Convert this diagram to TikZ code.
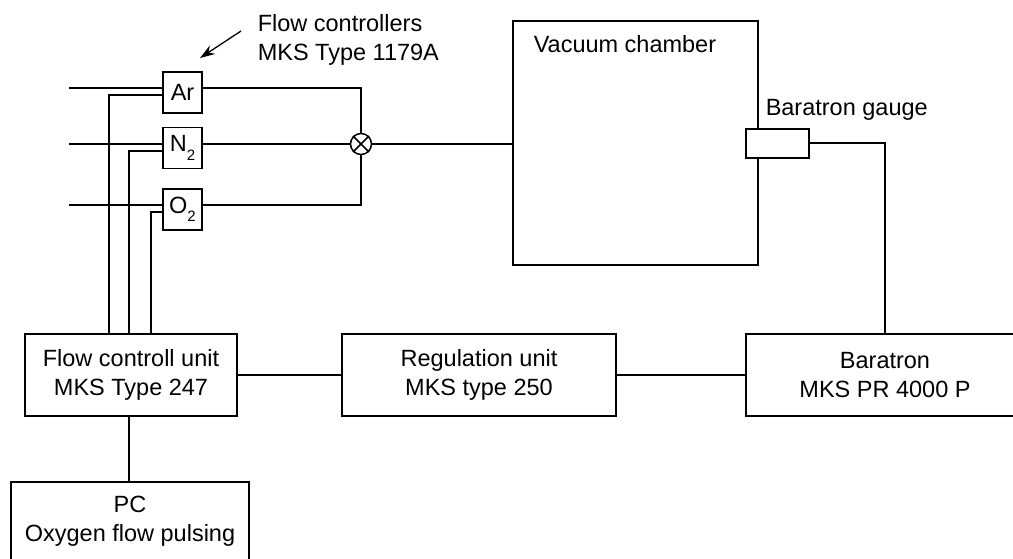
\documentclass[tikz,border=0pt]{standalone}
\usepackage{fontspec}
\setmainfont{Liberation Sans}
\usetikzlibrary{arrows.meta}
\begin{document}
\begin{tikzpicture}[x=1pt,y=-1pt,
  line width=1.5pt,
  every node/.style={font=\fontsize{23.5}{28.5}\selectfont},
  box/.style={draw,fill=white,rectangle,inner sep=0pt,align=center},
  gasbox/.style={box,minimum width=39pt,minimum height=41pt},
  bigbox/.style={box,minimum height=82pt},
  lbl/.style={inner sep=0pt,anchor=base west,align=left}]
\useasboundingbox (0,0) rectangle (1013,558);
\clip (0,0) rectangle (1013,558);

% gas flow controllers
\node[gasbox] (ar) at (182.5,92.5) {Ar};
\node[gasbox] (n2) at (182.5,148) {N\raisebox{-0.35em}{\fontsize{15}{15}\selectfont 2}};
\node[gasbox] (o2) at (182.5,209.5) {O\raisebox{-0.35em}{\fontsize{15}{15}\selectfont 2}};

% mixer
\node[draw,circle,minimum size=21pt,inner sep=0pt,fill=white] (mix) at (361,144) {};
\draw (mix.45) -- (mix.225);
\draw (mix.135) -- (mix.315);

% vacuum chamber and gauge
\node[box,minimum width=245pt,minimum height=244pt] (ch) at (635.5,143) {};
\node[lbl] (chl) at (533,52) {Vacuum chamber};
\node[box,minimum width=63pt,minimum height=29pt] (gauge) at (777.5,143.5) {};
\node[lbl] (gl) at (765,115) {Baratron gauge};

% lower units
\node[bigbox,minimum width=212pt] (fcu) at (131,375) {Flow controll unit\\MKS Type 247};
\node[bigbox,minimum width=274pt] (reg) at (479,375) {Regulation unit\\MKS type 250};
\node[bigbox,minimum width=278pt] (bar) at (885,375) {Baratron\\MKS PR 4000 P};
\node[box,minimum width=238pt,minimum height=78pt] (pc) at (130,521) {PC\\Oxygen flow pulsing};

% annotation
\node[lbl] (fcl) at (257,60) {Flow controllers\\MKS Type 1179A};
\coordinate (arrS) at (241,31);
\coordinate (arrE) at (200,58);
\draw[-{Stealth[length=15pt,width=10pt]},line width=1.3pt] (arrS) -- (arrE);

% gas inputs
\coordinate (inAr) at (69,88);
\coordinate (inN) at (69,144);
\coordinate (inO) at (69,205);
\draw (inAr) -- (inAr -| ar.west);
\draw (inN) -- (inN -| n2.west);
\draw (inO) -- (inO -| o2.west);

% control lines
\coordinate (cAr) at (109,95);
\coordinate (cN) at (129,151);
\coordinate (cO) at (151,212);
\draw (cAr -| ar.west) -- (cAr) -- (cAr |- fcu.north);
\draw (cN -| n2.west) -- (cN) -- (cN |- fcu.north);
\draw (cO -| o2.west) -- (cO) -- (cO |- fcu.north);

% outputs to mixer
\draw (inAr -| ar.east) -- (inAr -| mix.north) -- (mix.north);
\draw (n2.east |- mix.west) -- (mix.west);
\draw (inO -| o2.east) -- (inO -| mix.south) -- (mix.south);
\draw (mix.east) -- (mix.east -| ch.west);

% gauge to baratron
\coordinate (gc) at (885,143);
\draw (gc -| gauge.east) -- (gc) -- (bar.north);

% unit connections
\draw (fcu.east) -- (reg.west);
\draw (reg.east) -- (bar.west);
\draw (fcu.south -| 129,0) -- (pc.north -| 129,0);
\end{tikzpicture}
\end{document}
